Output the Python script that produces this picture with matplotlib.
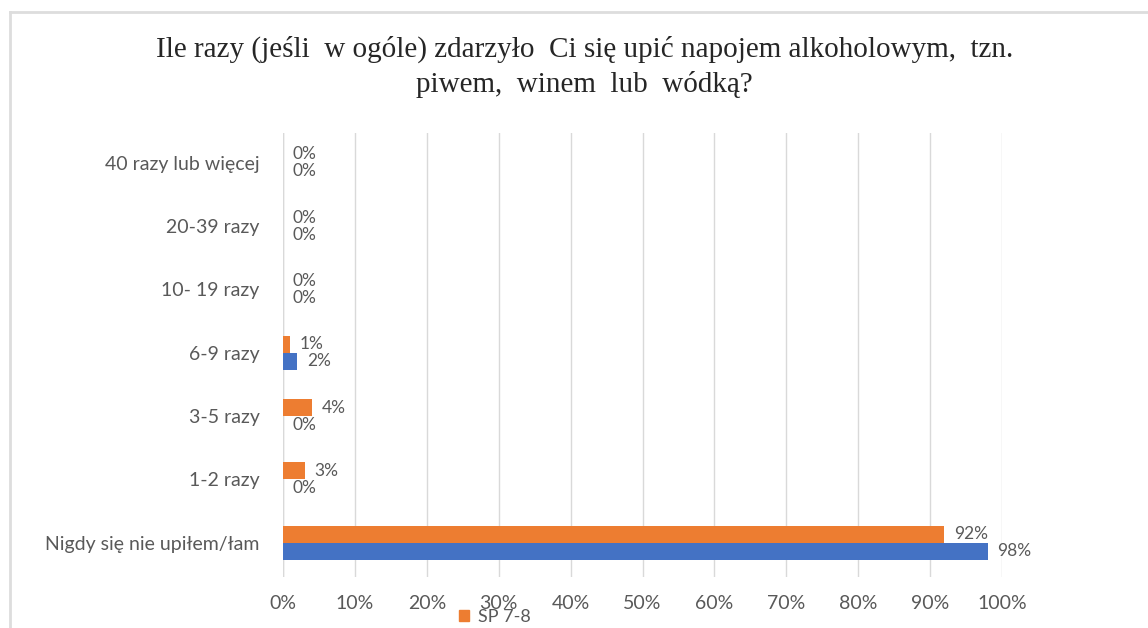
import numpy as np
import matplotlib
matplotlib.use('Agg')
import matplotlib.pyplot as plt
from matplotlib.patches import Rectangle
from matplotlib.lines import Line2D

# Data (bottom -> top)
categories = ['Nigdy się nie upiłem/łam', '1-2 razy', '3-5 razy', '6-9 razy',
              '10- 19 razy', '20-39 razy', '40 razy lub więcej']
sp78 = [92, 3, 4, 1, 0, 0, 0]      # orange series
other = [98, 0, 0, 2, 0, 0, 0]     # blue series
xticks = [0, 10, 20, 30, 40, 50, 60, 70, 80, 90, 100]
title = 'Ile razy (jeśli  w ogóle) zdarzyło  Ci się upić napojem alkoholowym,  tzn.\npiwem,  winem  lub  wódką?'

ORANGE = '#ED7D31'
BLUE = '#4472C4'
TXT = '#595959'
GRID = '#D9D9D9'

fig = plt.figure(figsize=(11.48, 6.28), dpi=100)
ax = fig.add_axes([283 / 1148, 1 - 577 / 628, 719 / 1148, 444 / 628])

y = np.arange(len(categories))
h = 0.27
bars_o = ax.barh(y + h / 2, sp78, height=h, color=ORANGE, label='SP 7-8', zorder=3)
bars_b = ax.barh(y - h / 2, other, height=h, color=BLUE, zorder=3)

# data labels
for bars, vals in [(bars_o, sp78), (bars_b, other)]:
    for b, v in zip(bars, vals):
        ax.annotate(f'{v}%', (b.get_width(), b.get_y() + b.get_height() / 2),
                    xytext=(7, 0), textcoords='offset points', ha='left', va='center',
                    fontsize=12.5, color=TXT, family='Lato')

ax.set_xlim(0, 100)
ax.set_ylim(-0.54, 6.47)
ax.set_xticks(xticks)
ax.set_xticklabels([f'{t}%' for t in xticks])
ax.set_yticks(y)
ax.set_yticklabels(categories)
ax.tick_params(length=0, labelsize=14, colors=TXT)
ax.tick_params(axis='x', pad=13)
ax.tick_params(axis='y', pad=17)
for lbl in ax.get_xticklabels() + ax.get_yticklabels():
    lbl.set_family('Lato')
ax.grid(axis='x', color=GRID, linewidth=1, zorder=0)
for s in ax.spines.values():
    s.set_visible(False)
ax.axvline(0, color=GRID, linewidth=1, zorder=1)

fig.text(0.509, 1 - 67 / 628, title, ha='center', va='center', fontsize=21,
         family='Liberation Serif', color='#262626', linespacing=1.38)

# legend (partly cut off at the bottom like the source)
handle = Rectangle((0, 0), 1, 1, color=ORANGE)
fig.legend([handle], ['SP 7-8'], loc='center left', bbox_to_anchor=(443 / 1148, 1 - 617 / 628),
           frameon=False, prop={'family': 'Lato', 'size': 13}, handlelength=0.55,
           handleheight=0.55, handletextpad=0.5, labelcolor=TXT)

# outer chart frame
fig.add_artist(Line2D([10 / 1148, 1], [1 - 12 / 628, 1 - 12 / 628], color='#DDDDDD', linewidth=2))
fig.add_artist(Line2D([10 / 1148, 10 / 1148], [0, 1 - 12 / 628], color='#DDDDDD', linewidth=2))

fig.savefig('out.png', dpi=100)
